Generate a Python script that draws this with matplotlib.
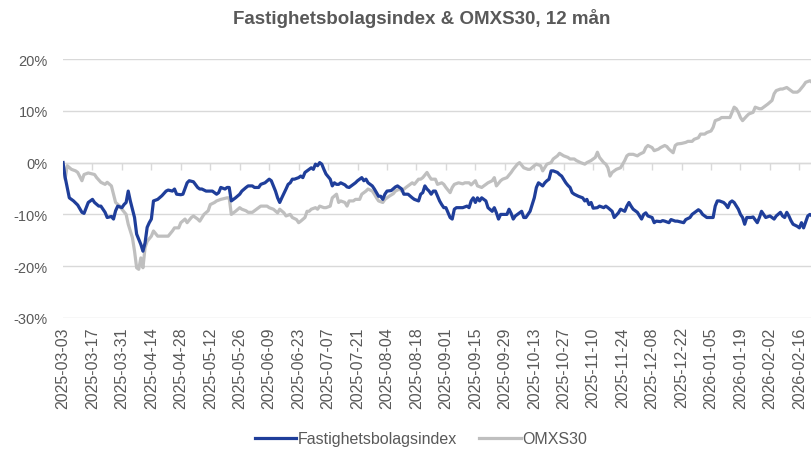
import numpy as np
import matplotlib
matplotlib.use("Agg")
import matplotlib.pyplot as plt
import matplotlib.dates as mdates
from matplotlib.ticker import FuncFormatter, FixedLocator

# ---------------- data ----------------
start_date = "2025-03-03"
title = "Fastighetsbolagsindex & OMXS30, 12 mån"
series_names = ["Fastighetsbolagsindex", "OMXS30"]

# days since start_date, and % change
fast_days = [0, 1, 3, 5, 7, 9, 10, 12, 14, 15, 17, 18, 19, 20, 21, 23, 24, 25, 26, 28, 29, 30, 31, 32, 34, 35, 37, 38, 39, 40,
             41, 42, 43, 45, 47, 49, 50, 52, 53, 54, 56, 57, 59, 60, 62, 64, 65, 66, 68, 70, 71, 73, 74, 75, 77, 78, 79, 80, 82, 84,
             85, 87, 88, 90, 91, 93, 94, 96, 98, 99, 101, 102, 103, 104, 106, 107, 108, 109, 110, 112, 113, 114, 115, 117, 118, 119, 120, 121, 122, 123,
             124, 125, 127, 128, 129, 130, 131, 132, 134, 135, 136, 137, 139, 140, 142, 143, 144, 145, 147, 148, 150, 151, 152, 153, 154, 156, 158, 159, 160, 161,
             162, 164, 166, 167, 169, 170, 171, 172, 173, 174, 175, 176, 177, 179, 180, 181, 182, 184, 185, 186, 187, 189, 190, 192, 193, 194, 195, 196, 197, 198,
             199, 201, 202, 204, 205, 206, 207, 208, 210, 211, 212, 213, 214, 215, 217, 218, 219, 220, 222, 223, 224, 225, 226, 228, 229, 230, 231, 232, 233, 235,
             236, 237, 239, 240, 241, 242, 243, 245, 247, 248, 249, 250, 251, 252, 254, 255, 257, 258, 259, 261, 262, 264, 265, 267, 268, 269, 270, 271, 273, 275,
             276, 277, 278, 280, 281, 282, 284, 285, 286, 288, 289, 291, 292, 293, 295, 296, 298, 299, 301, 302, 303, 304, 306, 307, 309, 310, 311, 312, 314, 315,
             316, 317, 318, 319, 321, 322, 323, 324, 325, 327, 328, 330, 331, 332, 333, 334, 336, 337, 338, 339, 341, 342, 343, 344, 345, 346, 347, 349, 350, 351,
             352, 354, 355, 356]
fast_values = [0.0, -2.8, -6.8, -7.4, -8.2, -9.6, -9.8, -7.7, -7.1, -7.7, -8.4, -8.4, -9.0, -9.6, -10.6, -10.4, -10.9, -9.3, -8.4, -8.7, -8.1, -7.7, -5.5, -7.4, -10.6, -13.8, -15.8, -17.1, -15.5, -12.5,
               -11.6, -10.9, -7.4, -7.1, -6.4, -5.5, -5.3, -5.5, -5.1, -6.1, -6.2, -6.1, -3.9, -3.5, -3.7, -4.8, -5.1, -5.1, -5.5, -5.5, -5.5, -6.1, -5.8, -4.8, -5.1, -4.8, -4.8, -7.4, -6.8, -6.1,
               -5.5, -4.8, -4.5, -4.5, -4.8, -4.8, -4.2, -3.9, -3.2, -3.5, -5.5, -6.8, -7.7, -6.8, -5.1, -4.2, -3.9, -3.2, -3.2, -2.9, -2.6, -2.9, -1.9, -1.3, -1.0, -1.3, -0.3, -0.6, 0.0, -0.3,
               -1.3, -2.2, -3.2, -4.5, -3.9, -4.2, -4.2, -3.9, -4.3, -4.7, -4.8, -4.5, -3.9, -3.5, -2.9, -3.5, -3.2, -3.9, -4.5, -5.1, -6.5, -6.5, -7.1, -6.1, -5.5, -5.4, -4.7, -4.5, -4.8, -5.1,
               -6.1, -6.1, -6.8, -7.1, -7.4, -6.1, -5.8, -4.5, -5.1, -5.5, -6.1, -5.5, -5.5, -7.4, -8.1, -8.7, -8.7, -10.6, -10.9, -9.0, -8.7, -8.7, -8.7, -8.4, -8.7, -7.4, -6.8, -7.7, -6.8, -7.4,
               -6.8, -7.4, -8.7, -9.4, -8.7, -9.7, -10.9, -10.0, -10.0, -10.0, -9.0, -9.8, -10.9, -10.3, -9.7, -9.4, -10.6, -10.6, -9.4, -8.1, -6.8, -4.8, -3.9, -4.5, -3.9, -3.5, -3.2, -1.6, -1.6, -1.9,
               -2.3, -2.6, -3.9, -4.4, -4.8, -5.8, -6.1, -6.5, -6.8, -7.4, -7.1, -8.1, -7.7, -8.8, -8.7, -8.4, -8.7, -8.4, -8.7, -9.4, -10.6, -9.7, -9.0, -9.4, -8.4, -7.7, -8.4, -9.0, -9.6, -10.9,
               -10.0, -9.7, -10.3, -10.6, -11.6, -11.3, -11.4, -11.2, -11.3, -11.6, -11.0, -11.3, -11.3, -11.4, -11.6, -11.0, -10.6, -10.0, -9.4, -9.1, -9.4, -10.0, -10.6, -10.6, -10.6, -8.4, -7.4, -7.4, -7.7, -8.1,
               -8.7, -7.7, -7.4, -7.7, -9.0, -10.0, -10.6, -11.9, -10.6, -10.6, -10.5, -11.6, -10.6, -9.4, -10.0, -10.6, -10.3, -10.6, -10.9, -10.3, -9.6, -10.3, -10.6, -9.6, -10.3, -11.2, -11.9, -12.3, -12.6, -11.6,
               -12.6, -10.3, -10.0, -10.3]

omx_days = [0, 1, 2, 4, 6, 7, 9, 10, 12, 13, 15, 16, 18, 20, 21, 23, 24, 25, 27, 28, 30, 31, 33, 34, 35, 36, 37, 38, 39, 40,
            42, 43, 45, 47, 49, 50, 52, 53, 55, 56, 58, 59, 61, 62, 64, 65, 67, 69, 70, 72, 73, 75, 77, 78, 79, 80, 82, 84, 85, 87,
            88, 90, 91, 93, 94, 97, 98, 100, 102, 103, 105, 106, 108, 109, 111, 112, 113, 115, 116, 117, 118, 120, 121, 122, 124, 125, 127, 128, 130, 131,
            132, 134, 135, 136, 138, 139, 141, 142, 144, 145, 147, 148, 149, 150, 152, 153, 155, 157, 158, 160, 161, 163, 164, 166, 167, 169, 170, 171, 173, 174,
            175, 177, 178, 180, 181, 182, 184, 185, 186, 188, 190, 191, 193, 194, 196, 197, 199, 201, 202, 204, 205, 206, 208, 209, 211, 213, 214, 216, 217, 219,
            221, 222, 224, 225, 227, 228, 230, 232, 233, 235, 236, 238, 240, 241, 243, 244, 246, 248, 249, 251, 253, 254, 255, 257, 258, 259, 260, 261, 263, 265,
            266, 267, 268, 269, 271, 273, 274, 276, 277, 278, 280, 281, 283, 284, 286, 287, 288, 290, 291, 292, 294, 296, 297, 299, 300, 302, 303, 305, 306, 308,
            309, 310, 312, 313, 315, 317, 318, 319, 320, 321, 322, 323, 325, 326, 328, 329, 331, 332, 333, 335, 337, 338, 339, 341, 342, 344, 346, 347, 349, 350,
            352, 353, 355, 356]
omx_values = [0.0, -3.2, -0.6, -1.3, -1.6, -1.9, -3.5, -2.3, -2.0, -2.1, -2.3, -2.9, -3.8, -4.2, -3.8, -4.5, -6.1, -7.7, -8.4, -9.0, -10.0, -11.9, -14.5, -17.1, -20.3, -20.6, -18.4, -20.3, -16.4, -15.2,
              -14.2, -13.2, -14.2, -14.2, -14.2, -14.2, -13.2, -12.6, -12.6, -11.6, -10.9, -11.6, -10.6, -10.3, -10.9, -11.3, -10.0, -9.3, -8.1, -7.7, -7.4, -7.1, -6.9, -6.8, -6.8, -10.0, -9.4, -8.7, -9.0, -9.3,
              -9.6, -9.6, -9.3, -8.7, -8.4, -8.4, -8.7, -9.0, -9.7, -9.0, -9.7, -10.3, -10.0, -10.6, -11.0, -11.6, -11.3, -10.6, -9.4, -9.4, -9.0, -8.7, -9.0, -8.4, -8.7, -8.7, -8.4, -6.8, -6.1, -7.7,
              -7.4, -7.7, -8.4, -7.4, -7.4, -7.1, -7.1, -6.1, -5.5, -5.1, -5.5, -6.1, -6.8, -7.4, -7.7, -7.1, -6.5, -6.0, -5.5, -5.1, -5.5, -4.8, -4.5, -3.9, -4.2, -3.2, -3.2, -2.9, -1.9, -2.6,
              -3.2, -3.2, -4.2, -3.9, -4.2, -4.8, -5.8, -4.8, -4.2, -3.9, -4.1, -3.9, -3.9, -4.3, -3.5, -4.5, -4.8, -4.2, -3.9, -3.5, -2.9, -4.5, -3.5, -3.2, -2.9, -1.9, -1.3, -0.3, 0.0, -1.0,
              -1.3, -1.3, -0.6, -0.3, -0.6, -1.6, -0.3, 0.0, 0.7, 1.3, 1.8, 1.3, 1.0, 0.7, 0.7, 0.4, 0.0, -0.3, 0.0, 0.4, 1.0, 2.0, 1.0, 0.0, -0.3, -1.0, -2.6, -1.9, -1.3, -1.0,
              -0.3, 0.4, 1.3, 1.6, 1.6, 1.3, 1.6, 2.0, 2.9, 3.3, 2.9, 2.3, 2.6, 2.9, 3.3, 3.1, 2.6, 1.9, 3.3, 3.6, 3.7, 3.9, 4.1, 4.1, 4.5, 4.8, 5.5, 5.5, 5.8, 6.1,
              6.8, 8.1, 8.4, 8.7, 8.7, 8.7, 9.7, 10.7, 10.4, 9.7, 8.7, 8.1, 9.0, 9.4, 9.7, 10.7, 10.4, 10.4, 10.7, 11.3, 12.0, 13.3, 13.9, 14.2, 14.2, 14.5, 13.9, 13.6, 13.6, 13.9,
              14.9, 15.5, 15.8, 15.5]

y_ticks = [-30, -20, -10, 0, 10, 20]
label_step_days = 14
last_label = "2026-02-16"
x_end = "2026-02-22"

# ---------------- style ----------------
BLUE = "#1F3E9A"
GRAY = "#BFBFBF"
GRID = "#D9D9D9"
TXT = "#595959"
FONT = ["Liberation Sans", "DejaVu Sans"]
plt.rcParams["font.family"] = FONT

W, H = 812, 452
fig = plt.figure(figsize=(W / 100, H / 100), dpi=100)
ax = fig.add_axes([63 / W, 1 - 319 / H, 1 - 63 / W, (319 - 60) / H])

t0 = np.datetime64(start_date)
fast_dates = t0 + np.array(fast_days, dtype="timedelta64[D]")
omx_dates = t0 + np.array(omx_days, dtype="timedelta64[D]")

ax.plot(omx_dates, omx_values, color=GRAY, lw=2.3, solid_joinstyle="round", label=series_names[1], zorder=3)
ax.plot(fast_dates, fast_values, color=BLUE, lw=2.3, solid_joinstyle="round", label=series_names[0], zorder=4)

ax.set_ylim(y_ticks[0], y_ticks[-1])
ax.set_xlim(t0, np.datetime64(x_end))
ax.yaxis.set_major_locator(FixedLocator(y_ticks))
ax.yaxis.set_major_formatter(FuncFormatter(lambda v, p: f"{v:.0f}%"))
ax.grid(axis="y", color=GRID, lw=1.0)
ax.set_axisbelow(True)
for s in ["top", "right", "left"]:
    ax.spines[s].set_visible(False)
ax.spines["bottom"].set_position(("data", 0))
ax.spines["bottom"].set_color(GRID)
ax.spines["bottom"].set_linewidth(1.0)

tick_dates = np.arange(t0, np.datetime64(last_label) + 1, label_step_days)
ax.set_xticks(tick_dates)
ax.tick_params(axis="x", direction="out", length=5, width=1.0, color=GRID, labelbottom=False)
ax.tick_params(axis="y", length=0, labelsize=10.5, labelcolor=TXT, pad=11)

sec = ax.secondary_xaxis(0.0)
sec.set_xticks(tick_dates)
sec.xaxis.set_major_formatter(mdates.DateFormatter("%Y-%m-%d"))
sec.tick_params(axis="x", length=0, labelsize=11.5, labelcolor=TXT, labelrotation=90, pad=6)
sec.spines["bottom"].set_visible(False)

fig.text(422 / W, 1 - 19 / H, title, ha="center", va="center", fontsize=13.5, fontweight="bold", color=TXT)

handles, labels = ax.get_legend_handles_labels()
order = [1, 0]
fig.legend([handles[i] for i in order], [labels[i] for i in order], loc="center", bbox_to_anchor=(421 / W, 1 - 440 / H),
           ncol=2, frameon=False, fontsize=11.5, labelcolor=TXT, handlelength=2.6, handletextpad=0.1, columnspacing=1.4)

fig.savefig("out.png", dpi=100)
